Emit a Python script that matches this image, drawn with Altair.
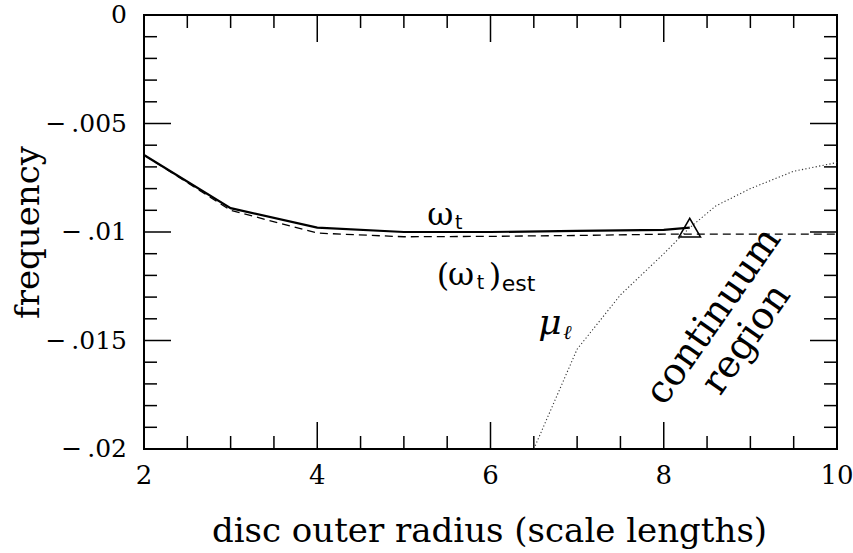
import altair as alt
import pandas as pd

# omega_t : pattern speed of the discrete mode, up to where it meets the continuum
radius_wt = [2, 3, 4, 5, 6, 7, 8, 8.3]
omega_t = [-0.00645, -0.0089, -0.0098, -0.0100, -0.0100, -0.00995, -0.0099, -0.0098]

# (omega_t)_est : estimated pattern speed
radius_est = [2, 3, 4, 5, 6, 7, 8, 9, 10]
omega_t_est = [-0.00645, -0.0090, -0.01005, -0.01022, -0.0102, -0.01016, -0.0101, -0.0101, -0.0101]

# mu_l : edge of the continuum
radius_mu = [6.5, 7.0, 7.5, 8.0, 8.3, 8.6, 9.0, 9.5, 10.0]
mu_l = [-0.0200, -0.0154, -0.0129, -0.0110, -0.0098, -0.0088, -0.0080, -0.0072, -0.0068]

# point where the mode joins the continuum
cross_r = [8.3]
cross_f = [-0.0098]

# tick positions and their printed labels
x_major = [2, 4, 6, 8, 10]
x_major_labels = ["2", "4", "6", "8", "10"]
x_minor = [2.5, 3, 3.5, 4.5, 5, 5.5, 6.5, 7, 7.5, 8.5, 9, 9.5]
y_major = [0, -0.005, -0.01, -0.015, -0.02]
y_major_labels = ["0", "\u2212\u2009.005", "\u2212\u2009.01", "\u2212\u2009.015", "\u2212\u2009.02"]
y_minor = [-0.001, -0.002, -0.003, -0.004, -0.006, -0.007, -0.008, -0.009,
           -0.011, -0.012, -0.013, -0.014, -0.016, -0.017, -0.018, -0.019]

# curve labels (serif, subscript, italic pieces)
serif_text = ["\u03c9", "(", "\u03c9", ")"]
serif_r = [5.27, 5.38, 5.51, 5.98]
serif_f = [-0.00968, -0.01249, -0.01244, -0.01249]

sub_text = ["t", "t", "est"]
sub_r = [5.59, 5.84, 6.13]
sub_f = [-0.00986, -0.01263, -0.01272]
sub_size = [19, 19, 22]

mu_text = ["\u03bc", "\u2113"]
mu_r = [6.55, 6.84]
mu_f = [-0.0147, -0.01493]
mu_size = [36, 20]

region_text = ["continuum\nregion"]
region_r = [8.58]
region_f = [-0.0139]

W, H = 693, 434
MAJOR, MINOR = 27, 13
SERIF = "DejaVu Serif"
SANS = "DejaVu Sans"

xs = alt.Scale(domain=[2, 10], nice=False, zero=False)
ys = alt.Scale(domain=[-0.02, 0], nice=False, zero=False)

# axes carry only the titles; ticks and tick labels are drawn as marks
x_axis = alt.Axis(
    title="disc outer radius (scale lengths)",
    labels=False, ticks=False, tickSize=0, domain=False, grid=False,
    titleFont=SERIF, titleFontSize=34, titleFontWeight="normal", titleColor="black",
    titleX=345, titleY=92, titleBaseline="alphabetic",
)
y_axis = alt.Axis(
    title="frequency",
    labels=False, ticks=False, tickSize=0, domain=False, grid=False,
    titleFont=SERIF, titleFontSize=34, titleFontWeight="normal", titleColor="black",
    titleAngle=270, titleX=-106, titleY=217, titleAlign="center", titleBaseline="alphabetic",
)


def X(field):
    return alt.X(field, scale=xs, axis=x_axis)


def Y(field):
    return alt.Y(field, scale=ys, axis=y_axis)


df_wt = pd.DataFrame({"r": radius_wt, "f": omega_t})
df_est = pd.DataFrame({"r": radius_est, "f": omega_t_est})
df_mu = pd.DataFrame({"r": radius_mu, "f": mu_l})
df_cross = pd.DataFrame({"r": cross_r, "f": cross_f})

wt_line = alt.Chart(df_wt).mark_line(color="black", strokeWidth=2.2).encode(
    x=X("r:Q"), y=Y("f:Q"),
)
est_line = alt.Chart(df_est).mark_line(color="black", strokeWidth=1.3, strokeDash=[8, 5]).encode(
    x=X("r:Q"), y=Y("f:Q"),
)
mu_line = alt.Chart(df_mu).mark_line(color="#333", strokeWidth=1.1, strokeDash=[1.2, 2.3]).encode(
    x=X("r:Q"), y=Y("f:Q"),
)
cross_pt = alt.Chart(df_cross).mark_point(
    shape="triangle-up", size=460, filled=False, color="black", strokeWidth=1.6, opacity=1
).encode(
    x=X("r:Q"), y=Y("f:Q"),
)


def tick_layer(values, horizontal_axis, length, side):
    df = pd.DataFrame({"r": values}) if horizontal_axis else pd.DataFrame({"f": values})
    base = alt.Chart(df).mark_rule(color="black", strokeWidth=1.5)
    if horizontal_axis:
        y0, y1 = (H, H - length) if side == "bottom" else (0, length)
        return base.encode(x=X("r:Q"), y=alt.value(y0), y2=alt.value(y1))
    x0, x1 = (0, length) if side == "left" else (W, W - length)
    return base.encode(y=Y("f:Q"), x=alt.value(x0), x2=alt.value(x1))


ticks = []
for side in ("bottom", "top"):
    ticks.append(tick_layer(x_major, True, MAJOR, side))
    ticks.append(tick_layer(x_minor, True, MINOR, side))
for side in ("left", "right"):
    ticks.append(tick_layer(y_major, False, MAJOR, side))
    ticks.append(tick_layer(y_minor, False, MINOR, side))

x_tick_lbl = alt.Chart(pd.DataFrame({"r": x_major, "t": x_major_labels})).mark_text(
    font=SERIF, fontSize=26, align="center", baseline="alphabetic", color="black"
).encode(x=X("r:Q"), y=alt.value(H + 35), text="t:N")

y_tick_lbl = alt.Chart(pd.DataFrame({"f": y_major, "t": y_major_labels})).mark_text(
    font=SERIF, fontSize=25, align="right", baseline="middle", color="black"
).encode(y=Y("f:Q"), x=alt.value(-17), text="t:N")

serif_lbl = alt.Chart(pd.DataFrame({"r": serif_r, "f": serif_f, "t": serif_text})).mark_text(
    font=SERIF, fontSize=32, align="left", baseline="alphabetic", color="black"
).encode(x=X("r:Q"), y=Y("f:Q"), text="t:N")

sub_lbl = alt.Chart(pd.DataFrame({"r": sub_r, "f": sub_f, "t": sub_text, "s": sub_size})).mark_text(
    font=SANS, align="left", baseline="alphabetic", color="black"
).encode(
    x=X("r:Q"), y=Y("f:Q"),
    text="t:N", size=alt.Size("s:Q", scale=None, legend=None),
)

mu_lbl = alt.Chart(pd.DataFrame({"r": mu_r, "f": mu_f, "t": mu_text, "s": mu_size})).mark_text(
    font=SERIF, fontStyle="italic", align="left", baseline="alphabetic", color="black"
).encode(
    x=X("r:Q"), y=Y("f:Q"),
    text="t:N", size=alt.Size("s:Q", scale=None, legend=None),
)

region_lbl = alt.Chart(pd.DataFrame({"r": region_r, "f": region_f, "t": region_text})).mark_text(
    font=SERIF, fontSize=38, angle=305, lineBreak="\n", lineHeight=40,
    align="center", baseline="middle", color="black"
).encode(x=X("r:Q"), y=Y("f:Q"), text="t:N")

chart = alt.layer(
    wt_line, est_line, mu_line, cross_pt, *ticks, x_tick_lbl, y_tick_lbl,
    serif_lbl, sub_lbl, mu_lbl, region_lbl,
).properties(
    width=W, height=H,
    autosize=alt.AutoSizeParams(type="none"),
    padding={"left": 144, "top": 15, "right": 16, "bottom": 104},
    background="white",
).configure_view(
    stroke="black", strokeWidth=2, clip=False,
)

chart.save("out.html", embed_options={"renderer": "svg", "actions": False})
